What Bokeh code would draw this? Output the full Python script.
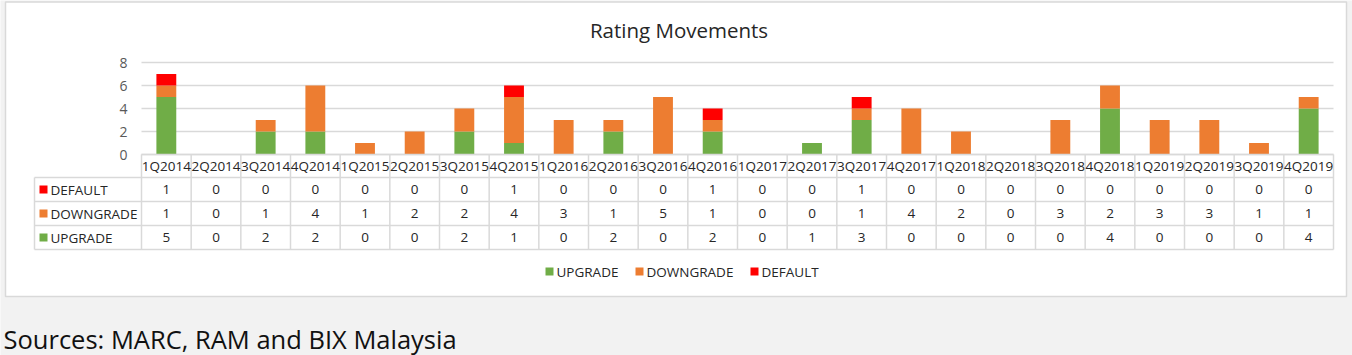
from bokeh.plotting import figure
from bokeh.models import Range1d, ColumnDataSource
from bokeh.core.properties import value
from bokeh.embed import file_html
from bokeh.resources import INLINE

# ---------------- data ----------------
quarters = ["1Q2014", "2Q2014", "3Q2014", "4Q2014", "1Q2015", "2Q2015", "3Q2015", "4Q2015",
            "1Q2016", "2Q2016", "3Q2016", "4Q2016", "1Q2017", "2Q2017", "3Q2017", "4Q2017",
            "1Q2018", "2Q2018", "3Q2018", "4Q2018", "1Q2019", "2Q2019", "3Q2019", "4Q2019"]
upgrade = [5, 0, 2, 2, 0, 0, 2, 1, 0, 2, 0, 2, 0, 1, 3, 0, 0, 0, 0, 4, 0, 0, 0, 4]
downgrade = [1, 0, 1, 4, 1, 2, 2, 4, 3, 1, 5, 1, 0, 0, 1, 4, 2, 0, 3, 2, 3, 3, 1, 1]
default = [1, 0, 0, 0, 0, 0, 0, 1, 0, 0, 0, 1, 0, 0, 1, 0, 0, 0, 0, 0, 0, 0, 0, 0]
series_names = ["UPGRADE", "DOWNGRADE", "DEFAULT"]
series_colors = ["#70ad47", "#ed7d31", "#ff0000"]
y_ticks = [0, 2, 4, 6, 8]
title_text = "Rating Movements"
source_text = "Sources: MARC, RAM and BIX Malaysia"

# ---------------- layout (pixels) ----------------
W, H = 1352, 355
PL, PR = 141, 1333          # plot area left/right
PT, PB = 62, 154            # y of top tick (8) and zero line
n = len(quarters)
u = (PR - PL) / n
v = (PB - PT) / 8.0
x_start = -0.5 - PL / u
x_end = x_start + W / u
y_end = PB / v
y_start = -(H - PB) / v

FONT = value("Open Sans")
GRID = "#d9d9d9"
TXT = "#262626"

p = figure(width=W, height=H, output_backend="svg", toolbar_location=None,
           x_range=Range1d(x_start, x_end), y_range=Range1d(y_start, y_end),
           x_axis_location=None, y_axis_location=None, min_border=0,
           background_fill_color="#f2f2f2", border_fill_color="#f2f2f2",
           outline_line_color=None)
p.xgrid.visible = False
p.ygrid.visible = False
p.extra_x_ranges = {"px": Range1d(0, W)}
p.extra_y_ranges = {"px": Range1d(H, 0)}

# chart box
p.quad(left=[5], right=[1346], top=[1.5], bottom=[296], fill_color="white",
       line_color=GRID, line_width=1.5, x_range_name="px", y_range_name="px")

# title
p.text(x=[678.5], y=[29], text=[title_text], text_font=FONT, text_font_size="20.5px",
       text_color=TXT, text_align="center", text_baseline="middle",
       x_range_name="px", y_range_name="px")

# gridlines
p.segment(x0=[PL] * len(y_ticks), x1=[PR] * len(y_ticks), y0=y_ticks, y1=y_ticks,
          line_color=GRID, line_width=1.3, x_range_name="px")
p.text(x=[127] * len(y_ticks), y=y_ticks, text=[str(t) for t in y_ticks], text_font=FONT,
       text_font_size="14px", text_color="#595959", text_align="right", text_baseline="middle",
       x_range_name="px")

# stacked bars
idx = list(range(n))
src = ColumnDataSource(dict(x=idx, UPGRADE=upgrade, DOWNGRADE=downgrade, DEFAULT=default))
p.vbar_stack(series_names, x="x", width=0.4, color=series_colors, line_color=None, source=src)

# data table
ROW_TOP = 177
ROW_H = 24
table_rows = [("DEFAULT", default, series_colors[2]),
              ("DOWNGRADE", downgrade, series_colors[1]),
              ("UPGRADE", upgrade, series_colors[0])]
n_rows = len(table_rows)
TL = 34
# horizontal lines
hy = [ROW_TOP + k * ROW_H for k in range(n_rows + 1)]
p.segment(x0=[PL], x1=[PR], y0=[PB], y1=[PB], line_color=GRID, line_width=1.5,
          x_range_name="px", y_range_name="px")
p.segment(x0=[TL] * len(hy), x1=[PR] * len(hy), y0=hy, y1=hy, line_color=GRID, line_width=1.5,
          x_range_name="px", y_range_name="px")
# vertical lines
bx = [PL + k * u for k in range(n + 1)]
p.segment(x0=bx, x1=bx, y0=[PB] * len(bx), y1=[hy[-1]] * len(bx), line_color=GRID,
          line_width=1.5, x_range_name="px", y_range_name="px")
p.segment(x0=[TL], x1=[TL], y0=[ROW_TOP], y1=[hy[-1]], line_color=GRID, line_width=1.5,
          x_range_name="px", y_range_name="px")

# category labels
p.text(x=idx, y=[165.5] * n, text=quarters, text_font=FONT, text_font_size="13.5px",
       text_color=TXT, text_align="center", text_baseline="middle", y_range_name="px")

for r, (name, vals, col) in enumerate(table_rows):
    cy = ROW_TOP + ROW_H * r + ROW_H / 2
    p.text(x=idx, y=[cy] * n, text=[str(x) for x in vals], text_font=FONT,
           text_font_size="13.5px", text_color=TXT, text_align="center",
           text_baseline="middle", y_range_name="px")
    p.rect(x=[43], y=[cy], width=8, height=8, fill_color=col, line_color=None,
           x_range_name="px", y_range_name="px")
    p.text(x=[50], y=[cy], text=[name], text_font=FONT, text_font_size="13.5px",
           text_color=TXT, text_align="left", text_baseline="middle",
           x_range_name="px", y_range_name="px")

# legend
leg_x = [549, 639, 754]
for lx, name, col in zip(leg_x, series_names, series_colors):
    p.rect(x=[lx], y=[271], width=8, height=8, fill_color=col, line_color=None,
           x_range_name="px", y_range_name="px")
    p.text(x=[lx + 7], y=[271], text=[name], text_font=FONT, text_font_size="13.5px",
           text_color=TXT, text_align="left", text_baseline="middle",
           x_range_name="px", y_range_name="px")

# source note
p.text(x=[3], y=[338], text=[source_text], text_font=FONT, text_font_size="25.5px",
       text_color="#111111", text_align="left", text_baseline="middle",
       x_range_name="px", y_range_name="px")

open("out.html", "w").write(file_html(p, INLINE))
